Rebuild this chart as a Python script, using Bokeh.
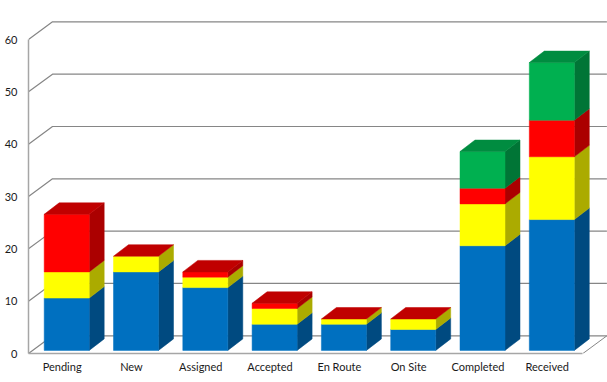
from bokeh.plotting import figure
from bokeh.models import FixedTicker, Range1d
from bokeh.embed import file_html
from bokeh.resources import INLINE

categories = ["Pending", "New", "Assigned", "Accepted", "En Route", "On Site", "Completed", "Received"]
blue = [10, 15, 12, 5, 5, 4, 20, 25]
yellow = [5, 3, 2, 3, 1, 2, 8, 12]
red = [11, 0, 1, 1, 0, 0, 3, 7]
green = [0, 0, 0, 0, 0, 0, 7, 11]
y_ticks = [0, 10, 20, 30, 40, 50, 60]

FRONT = ["#0070C0", "#FFFF00", "#FF0000", "#00B050"]
SIDE = ["#004A80", "#ABAB00", "#AB0000", "#007536"]
TOP = ["#005A9A", "#CCCC00", "#C00000", "#008C40"]
GRID = "#868686"
AXIS = "#A6A6A6"
TEXT = "#1A1A1A"
FONT = "Lato"

PX_X = 69.3      # pixels per category
PX_Y = 5.233     # pixels per value unit
WIDTH, HEIGHT = 607, 382
LEFT, BOTTOM = 28, 353   # frame's left and bottom edge in the window

wall_dx, wall_dy = 24 / PX_X, 17.7 / PX_Y
bar_dx, bar_dy = 15 / PX_X, 11.5 / PX_Y
bar_pad, bar_w = 15.7 / PX_X, 45 / PX_X
floor = 3.1 / PX_Y
label_nudge = 1 / PX_X

p = figure(width=WIDTH, height=HEIGHT, output_backend="svg", toolbar_location=None,
           x_range=Range1d(0, (WIDTH - LEFT) / PX_X),
           y_range=Range1d(0, BOTTOM / PX_Y),
           min_border_left=LEFT, min_border_right=0, min_border_top=0, min_border_bottom=HEIGHT - BOTTOM)
p.outline_line_color = None
p.grid.visible = False
p.background_fill_color = "white"

# Walls: gridlines with their slanted return to the front axis
n = len(categories)
p.multi_line([[0, wall_dx, n + wall_dx] for _ in y_ticks],
             [[t, t + wall_dy, t + wall_dy] for t in y_ticks],
             line_color=GRID, line_width=1.2)
p.line([n, n + wall_dx], [0, wall_dy], line_color=GRID, line_width=1)

# Stacked 3-D columns
for i in range(n):
    x0 = i + bar_pad
    x1 = x0 + bar_w
    base = floor
    stack = [blue[i], yellow[i], red[i], green[i]]
    last = 3 if green[i] > 0 else 2
    for k, v in enumerate(stack):
        if v > 0:
            top = base + v
            p.patch([x1, x1 + bar_dx, x1 + bar_dx, x1],
                    [base, base + bar_dy, top + bar_dy, top],
                    fill_color=SIDE[k], line_color=SIDE[k], line_width=0.5)
            p.patch([x0, x1, x1, x0], [base, base, top, top],
                    fill_color=FRONT[k], line_color=FRONT[k], line_width=0.5)
            base = top
    p.patch([x0, x1, x1 + bar_dx, x0 + bar_dx],
            [base, base, base + bar_dy, base + bar_dy],
            fill_color=TOP[last], line_color=TOP[last], line_width=0.5)

xa = p.xaxis[0]
x_tick_pos = [i + 0.5 - label_nudge for i in range(n)]
xa.ticker = FixedTicker(ticks=x_tick_pos)
xa.major_label_overrides = dict(zip(x_tick_pos, categories))
xa.bounds = (0, n)
xa.major_tick_out = 0
xa.major_tick_in = 0
xa.minor_tick_out = 0
xa.minor_tick_in = 0
xa.axis_line_color = AXIS
xa.axis_line_width = 1.5
xa.major_label_standoff = 6
xa.major_label_text_font = FONT
xa.major_label_text_font_size = "11px"
xa.major_label_text_color = TEXT

ya = p.yaxis[0]
ya.ticker = FixedTicker(ticks=y_ticks)
ya.bounds = (0, 60)
ya.major_tick_out = 0
ya.major_tick_in = 0
ya.minor_tick_out = 0
ya.minor_tick_in = 0
ya.axis_line_color = AXIS
ya.axis_line_width = 1.5
ya.major_label_standoff = 11
ya.major_label_text_font = FONT
ya.major_label_text_font_size = "11px"
ya.major_label_text_color = TEXT

open("out.html", "w").write(file_html(p, INLINE))
